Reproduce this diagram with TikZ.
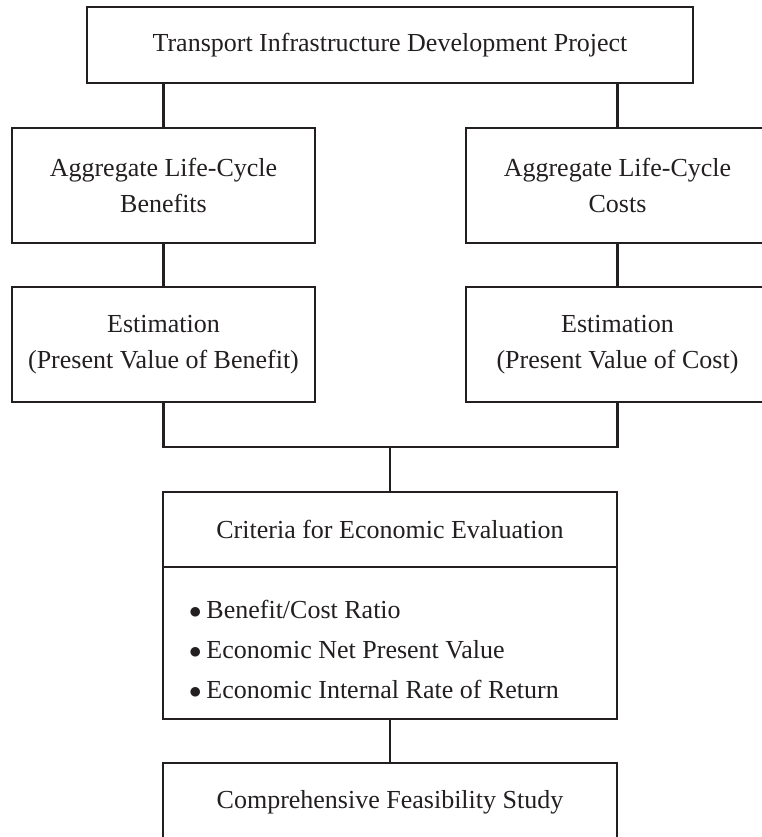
\documentclass[tikz,border=0pt]{standalone}
\usepackage{fontspec}
\setmainfont{Liberation Serif}
\definecolor{ink}{RGB}{35,31,32}
\newcommand{\itemdot}{$\bullet$\hspace{5pt}}
\begin{document}
\begin{tikzpicture}[x=1pt,y=-1pt,
  box/.style={draw=ink,line width=2.8pt,rectangle,inner sep=0pt,outer sep=0pt,
    align=center,text=ink,font=\fontsize{26}{36}\selectfont},
  link/.style={draw=ink,line width=2.2pt}]
\useasboundingbox (0,0) rectangle (761,837);

% project and the two life-cycle branches
\node[box,minimum width=606pt,minimum height=76pt] (proj) at (390,45)
  {Transport Infrastructure Development Project};
\node[box,minimum width=303pt,minimum height=115pt] (ben) at (163.5,185.5)
  {Aggregate Life-Cycle\\Benefits};
\node[box,minimum width=303pt,minimum height=115pt] (cost) at (617.5,185.5)
  {Aggregate Life-Cycle\\Costs};
\node[box,minimum width=303pt,minimum height=115pt] (pvb) at (163.5,344.5)
  {Estimation\\(Present Value of Benefit)};
\node[box,minimum width=303pt,minimum height=115pt] (pvc) at (617.5,344.5)
  {Estimation\\(Present Value of Cost)};

% evaluation criteria: header and list sharing one divider
\node[box,minimum width=454pt,minimum height=75pt] (crit) at (390,529.5)
  {Criteria for Economic Evaluation};
\node[box,minimum width=454pt,minimum height=152pt,align=flush left,
      text width=402pt,inner xsep=26pt,font=\fontsize{26}{40}\selectfont] (list) at (390,643)
  {\rule{0pt}{32pt}\itemdot Benefit/Cost Ratio\\
   \itemdot Economic Net Present Value\\
   \itemdot Economic Internal Rate of Return};

\node[box,minimum width=454pt,minimum height=78pt] (fin) at (390,802)
  {Comprehensive Feasibility Study};

% connectors
\coordinate (join) at (390,447);
\draw[link] (proj.south -| ben.north) -- (ben.north);
\draw[link] (proj.south -| cost.north) -- (cost.north);
\draw[link] (ben.south) -- (pvb.north);
\draw[link] (cost.south) -- (pvc.north);
\draw[link] (pvb.south) |- (join) -| (pvc.south);
\draw[link] (join) -- (crit.north);
\draw[link] (list.south) -- (fin.north);
\end{tikzpicture}
\end{document}
